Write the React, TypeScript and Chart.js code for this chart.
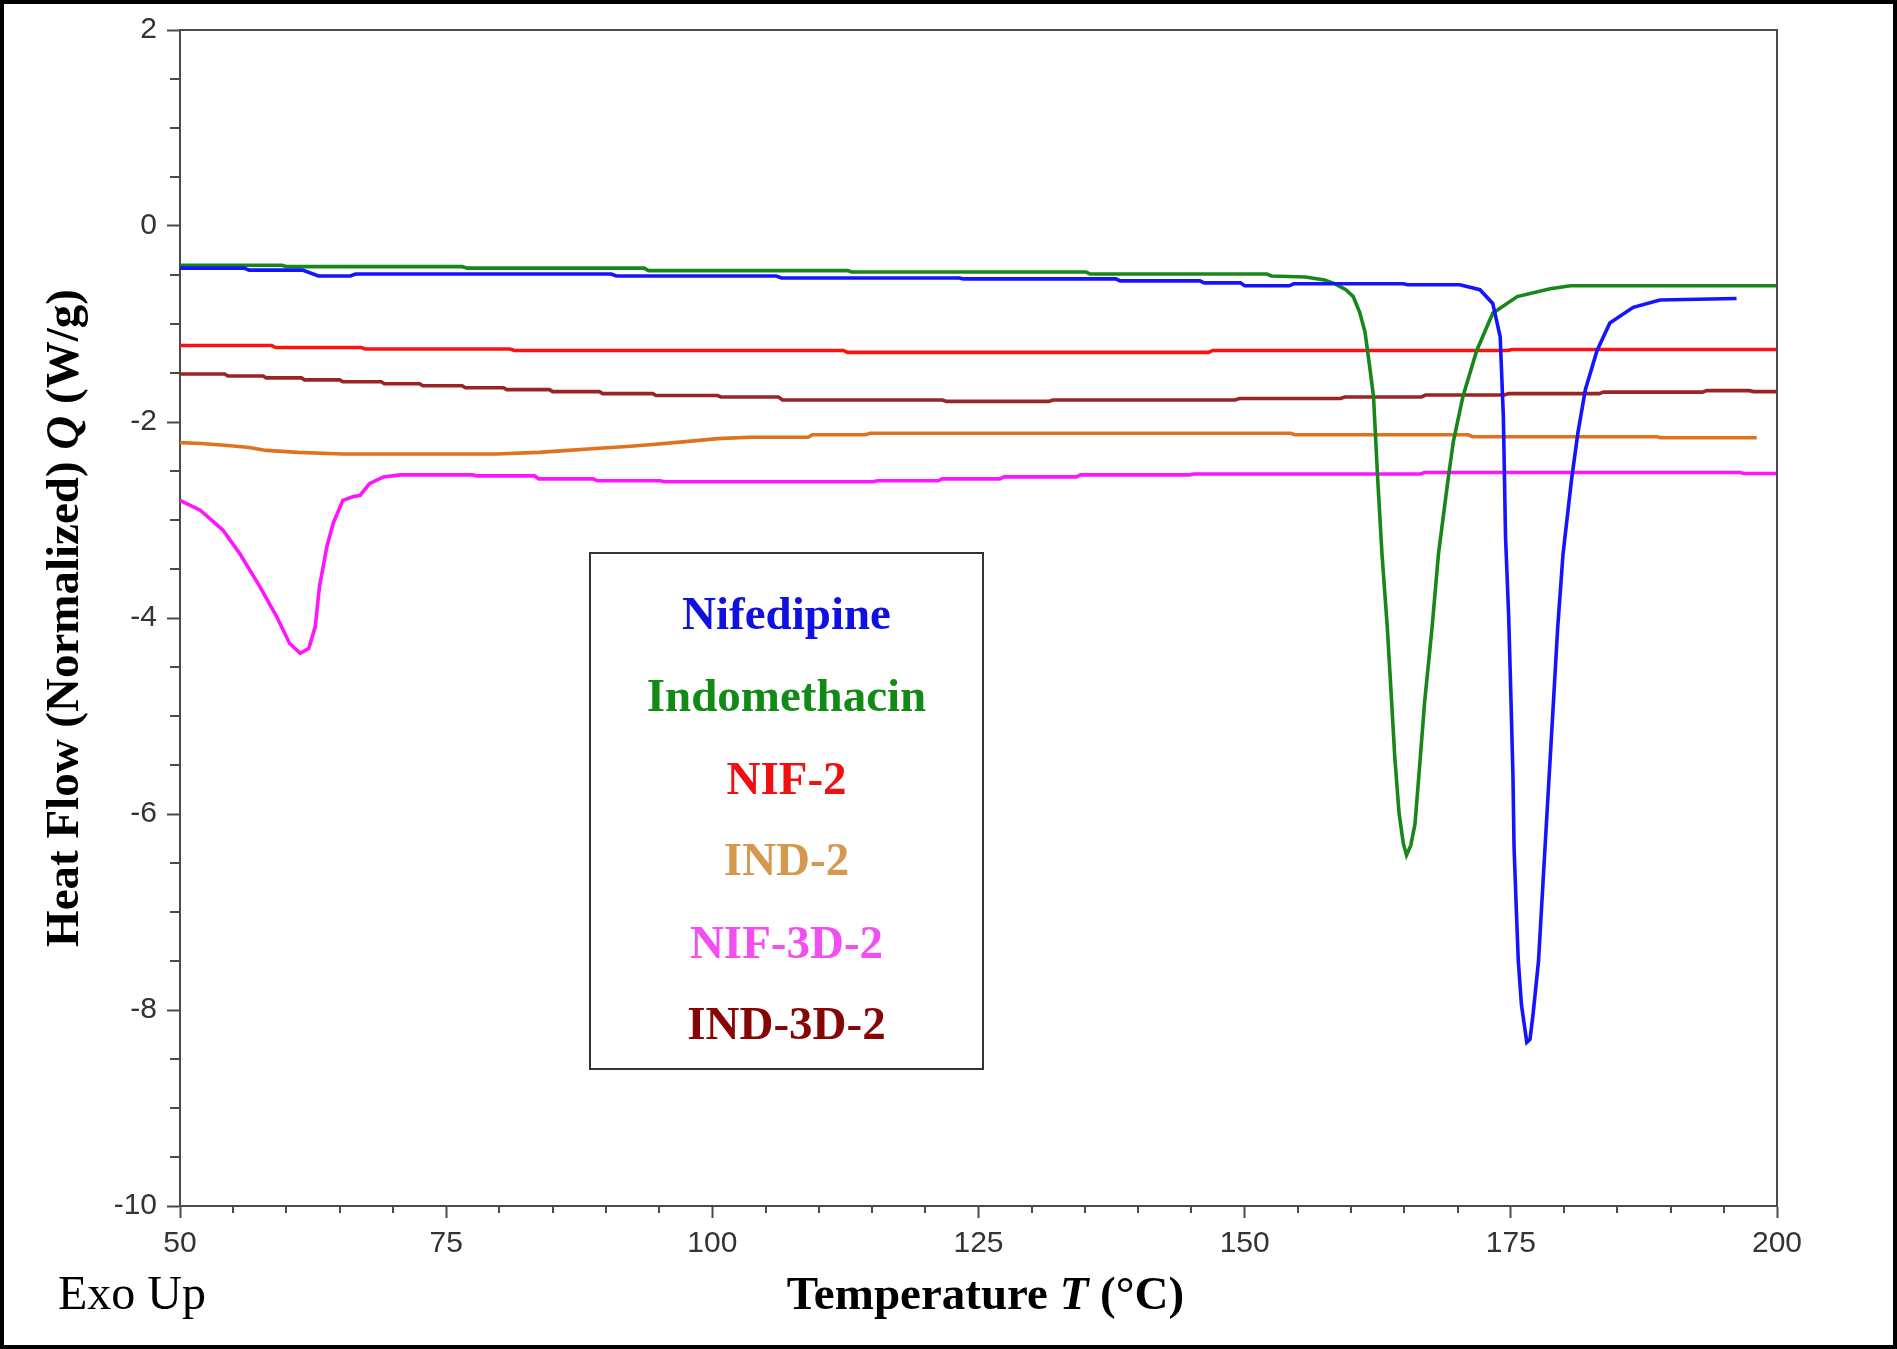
import React, { useEffect, useRef } from "react";
import { Chart, registerables } from "chart.js";

Chart.register(...registerables);

const W = 1897;
const H = 1349;

const xTicks = [50, 75, 100, 125, 150, 175, 200];
const yTicks = [2, 0, -2, -4, -6, -8, -10];

const seriesNames = ["Nifedipine", "Indomethacin", "NIF-2", "IND-2", "NIF-3D-2", "IND-3D-2"];
const lineColors = ["#1414ff", "#17871a", "#ff1010", "#e0721e", "#ff14ff", "#9a2424"];
const labelColors = ["#1010e0", "#128a16", "#f01010", "#d4984e", "#f24ef2", "#860606"];

// Nifedipine (blue)
const nifT = [50, 56, 56.5, 61.5, 63, 66, 66.5, 90.5, 91, 106, 106.5, 123.2, 123.6, 137.9, 138.3, 145.8, 146.2, 149.6, 150, 154.2, 154.6, 164.9, 165.3, 170.2, 172.1, 173.3, 174.0, 174.3, 174.5, 174.8, 175.0, 175.2, 175.3, 175.5, 175.7, 176.0, 176.5, 176.8, 177.1, 177.6, 178.0, 178.5, 179.0, 179.4, 179.9, 180.7, 181.3, 182.0, 183.1, 184.3, 186.5, 189, 196.2];
const nifQ = [-0.43, -0.43, -0.45, -0.45, -0.51, -0.51, -0.49, -0.49, -0.51, -0.51, -0.53, -0.53, -0.54, -0.54, -0.56, -0.56, -0.58, -0.58, -0.61, -0.61, -0.59, -0.59, -0.6, -0.6, -0.65, -0.79, -1.13, -1.95, -3.16, -3.99, -4.78, -5.61, -6.33, -6.93, -7.5, -7.95, -8.33, -8.3, -8.03, -7.5, -6.74, -5.8, -4.86, -4.1, -3.35, -2.59, -2.11, -1.67, -1.27, -0.99, -0.83, -0.755, -0.74];

// Indomethacin (green)
const indT = [50, 59.6, 60, 76.5, 77, 93.6, 94, 112.7, 113.1, 135.1, 135.5, 152.1, 152.5, 155.7, 157.5, 158.5, 159.5, 160.2, 160.8, 161.3, 161.7, 162.1, 162.5, 162.9, 163.4, 163.7, 164.1, 164.5, 164.9, 165.2, 165.6, 166.0, 166.5, 166.9, 167.6, 168.2, 169.1, 169.6, 170.5, 171.8, 173.3, 175.6, 178.7, 180.6, 200];
const indQ = [-0.4, -0.4, -0.415, -0.415, -0.43, -0.43, -0.455, -0.455, -0.47, -0.47, -0.49, -0.49, -0.51, -0.52, -0.55, -0.59, -0.65, -0.72, -0.88, -1.08, -1.4, -1.74, -2.59, -3.35, -4.1, -4.66, -5.42, -5.99, -6.3, -6.42, -6.32, -6.1, -5.42, -4.86, -4.1, -3.35, -2.59, -2.2, -1.74, -1.27, -0.89, -0.72, -0.64, -0.61, -0.61];

// NIF-2 (red)
const nif2T = [50, 58.6, 59, 67, 67.4, 81, 81.4, 112.3, 112.7, 146.6, 147, 174.7, 175.1, 200];
const nif2Q = [-1.22, -1.22, -1.24, -1.24, -1.255, -1.255, -1.27, -1.27, -1.29, -1.29, -1.27, -1.27, -1.26, -1.26];

// IND-2 (orange)
const ind2T = [50, 52, 54.5, 56.5, 58.1, 61.1, 65.3, 79.7, 83.7, 86.5, 89, 92, 94.4, 97.5, 100.5, 103.5, 109, 109.4, 114.4, 114.8, 154.3, 154.7, 171, 171.4, 188.7, 189.1, 198.1];
const ind2Q = [-2.21, -2.22, -2.24, -2.26, -2.29, -2.31, -2.327, -2.327, -2.31, -2.29, -2.27, -2.25, -2.23, -2.2, -2.17, -2.155, -2.155, -2.13, -2.13, -2.115, -2.115, -2.13, -2.13, -2.15, -2.15, -2.16, -2.16];

// NIF-3D-2 (magenta)
const nif3dT = [50, 51.9, 54.0, 55.6, 57.5, 59.1, 60.3, 61.3, 62.1, 62.7, 63.1, 63.8, 64.4, 65.3, 66.3, 66.9, 67.8, 69.1, 70.7, 77.5, 77.9, 83.3, 83.7, 88.8, 89.2, 95.1, 95.5, 115.1, 115.5, 121.2, 121.6, 127, 127.4, 134.2, 134.6, 144.8, 145.2, 166.5, 166.9, 196.5, 196.9, 200];
const nif3dQ = [-2.8, -2.9, -3.1, -3.34, -3.68, -3.99, -4.26, -4.36, -4.31, -4.09, -3.68, -3.27, -3.03, -2.8, -2.76, -2.75, -2.63, -2.56, -2.54, -2.54, -2.55, -2.55, -2.58, -2.58, -2.6, -2.6, -2.61, -2.61, -2.6, -2.6, -2.58, -2.58, -2.56, -2.56, -2.54, -2.54, -2.53, -2.53, -2.515, -2.515, -2.525, -2.525];

// IND-3D-2 (dark red)
const ind3dT = [50, 54.2, 54.5, 57.8, 58.1, 61.4, 61.7, 65, 65.3, 68.9, 69.2, 72.5, 72.8, 76.5, 76.8, 80.4, 80.7, 84.7, 85, 89.4, 89.7, 94.4, 94.7, 100.5, 100.8, 106.2, 106.6, 121.6, 122, 131.6, 132, 149.1, 149.5, 159, 159.4, 166.6, 167, 174.4, 174.8, 183.3, 183.7, 193, 193.4, 197.4, 197.8, 200];
const ind3dQ = [-1.51, -1.51, -1.53, -1.53, -1.55, -1.55, -1.57, -1.57, -1.59, -1.59, -1.61, -1.61, -1.63, -1.63, -1.65, -1.65, -1.67, -1.67, -1.69, -1.69, -1.71, -1.71, -1.73, -1.73, -1.745, -1.745, -1.775, -1.775, -1.79, -1.79, -1.775, -1.775, -1.76, -1.76, -1.745, -1.745, -1.725, -1.725, -1.71, -1.71, -1.695, -1.695, -1.68, -1.68, -1.69, -1.69];

const seriesT = [nifT, indT, nif2T, ind2T, nif3dT, ind3dT];
const seriesQ = [nifQ, indQ, nif2Q, ind2Q, nif3dQ, ind3dQ];

const SERIF = '"Liberation Serif", "Times New Roman", serif';
const SANS = '"Liberation Sans", Arial, sans-serif';
const AXIS = "#4a4a4a";

function drawParts(ctx: CanvasRenderingContext2D, parts: [string, string][], cx: number, cy: number) {
  let total = 0;
  const widths = parts.map(([t, f]) => {
    ctx.font = f;
    const w = ctx.measureText(t).width;
    total += w;
    return w;
  });
  let x = cx - total / 2;
  ctx.textAlign = "left";
  parts.forEach(([t, f], i) => {
    ctx.font = f;
    ctx.fillText(t, x, cy);
    x += widths[i];
  });
}

const decorPlugin = {
  id: "decor",
  afterDraw(chart: any) {
    const ctx: CanvasRenderingContext2D = chart.ctx;
    const a = chart.chartArea;
    const xs = chart.scales.x;
    const ys = chart.scales.y;
    ctx.save();
    // frame top/right
    ctx.strokeStyle = AXIS;
    ctx.lineWidth = 2;
    ctx.beginPath();
    ctx.moveTo(a.left, a.top);
    ctx.lineTo(a.right, a.top);
    ctx.lineTo(a.right, a.bottom);
    ctx.stroke();
    // minor ticks
    ctx.beginPath();
    for (let v = 50; v <= 200; v += 5) {
      if (v % 25 === 0) continue;
      const px = Math.round(xs.getPixelForValue(v));
      ctx.moveTo(px, a.bottom);
      ctx.lineTo(px, a.bottom + 7);
    }
    for (let v = -10; v <= 2; v += 0.5) {
      if (Math.abs(v % 2) < 1e-9) continue;
      const py = Math.round(ys.getPixelForValue(v));
      ctx.moveTo(a.left, py);
      ctx.lineTo(a.left - 10, py);
    }
    ctx.stroke();

    // legend box
    const bx = 590, by = 553, bw = 393, bh = 516;
    ctx.fillStyle = "#ffffff";
    ctx.fillRect(bx, by, bw, bh);
    ctx.strokeStyle = "#333333";
    ctx.lineWidth = 2;
    ctx.strokeRect(bx, by, bw, bh);
    ctx.textAlign = "center";
    ctx.textBaseline = "alphabetic";
    ctx.font = `bold 47px ${SERIF}`;
    const baselines = [629, 711, 794, 875, 958, 1039];
    seriesNames.forEach((n, i) => {
      ctx.fillStyle = labelColors[i];
      ctx.fillText(n, bx + bw / 2, baselines[i]);
    });

    // axis titles
    ctx.fillStyle = "#000000";
    ctx.textBaseline = "alphabetic";
    const bold = `bold 47px ${SERIF}`;
    const boldIt = `italic bold 47px ${SERIF}`;
    drawParts(ctx, [["Temperature ", bold], ["T", boldIt], [" (°C)", bold]], (a.left + a.right) / 2 + 7, 1309);

    ctx.save();
    ctx.translate(78, 618);
    ctx.rotate(-Math.PI / 2);
    const b2 = `bold 47px ${SERIF}`;
    const bi2 = `italic bold 47px ${SERIF}`;
    drawParts(ctx, [["Heat Flow (Normalized) ", b2], ["Q", bi2], [" (W/g)", b2]], 0, 0);
    ctx.restore();

    // Exo Up
    ctx.font = `48px ${SERIF}`;
    ctx.textAlign = "left";
    ctx.fillStyle = "#000000";
    ctx.fillText("Exo Up", 58, 1309);

    // outer frame
    ctx.strokeStyle = "#000000";
    ctx.lineWidth = 4;
    ctx.strokeRect(2, 2, W - 4, H - 4);
    ctx.restore();
  },
};

export default function App() {
  const ref = useRef<HTMLCanvasElement | null>(null);
  useEffect(() => {
    if (!ref.current) return;
    const datasets = seriesNames.map((name, i) => ({
      label: name,
      data: seriesT[i].map((t, j) => ({ x: t, y: seriesQ[i][j] })),
      borderColor: lineColors[i],
      backgroundColor: lineColors[i],
      borderWidth: 3.6,
      pointRadius: 0,
      tension: 0,
      fill: false,
    }));
    const chart = new Chart(ref.current, {
      type: "line",
      data: { datasets },
      plugins: [decorPlugin],
      options: {
        animation: false,
        responsive: false,
        devicePixelRatio: 1,
        layout: { padding: { left: 0, right: 120, top: 30, bottom: 0 } },
        plugins: { legend: { display: false }, tooltip: { enabled: false } },
        scales: {
          x: {
            type: "linear",
            min: 50,
            max: 200,
            afterBuildTicks: (s: any) => {
              s.ticks = xTicks.map((v) => ({ value: v }));
            },
            afterFit: (s: any) => {
              s.height = 143;
            },
            grid: { drawOnChartArea: false, tickLength: 12, color: AXIS, tickWidth: 2 },
            border: { color: AXIS, width: 2 },
            ticks: {
              font: { family: SANS, size: 30 },
              color: "#333333",
              padding: 8,
              maxRotation: 0,
              autoSkip: false,
            },
          },
          y: {
            type: "linear",
            min: -10,
            max: 2,
            afterBuildTicks: (s: any) => {
              s.ticks = yTicks.map((v) => ({ value: v }));
            },
            afterFit: (s: any) => {
              s.width = 180;
            },
            grid: { drawOnChartArea: false, tickLength: 13, color: AXIS, tickWidth: 2 },
            border: { color: AXIS, width: 2 },
            ticks: {
              font: { family: SANS, size: 30 },
              color: "#333333",
              padding: 10,
              autoSkip: false,
              callback: (v: any) => String(v),
            },
          },
        },
      } as any,
    });
    return () => chart.destroy();
  }, []);
  return (
    <div style={{ position: "absolute", left: 0, top: 0, width: W, height: H, background: "#fff" }}>
      <canvas ref={ref} width={W} height={H} style={{ display: "block", width: W, height: H }} />
    </div>
  );
}
